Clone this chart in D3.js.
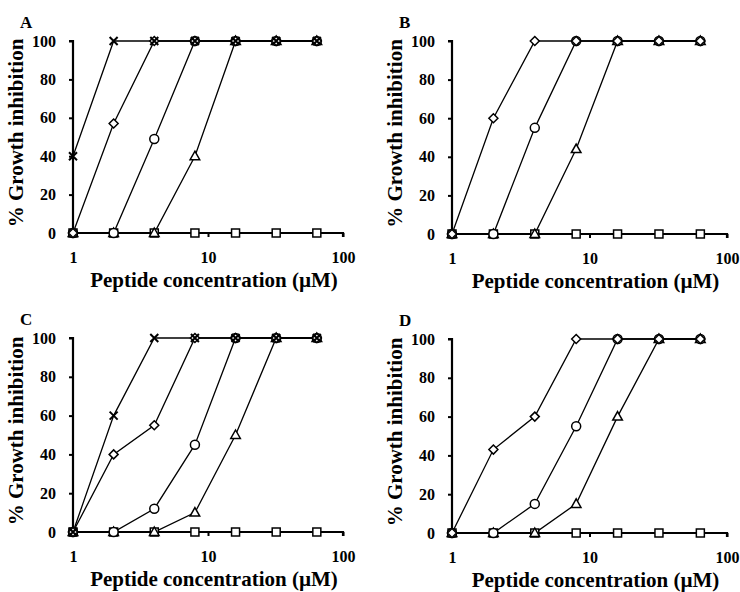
<!DOCTYPE html>
<html>
<head>
<meta charset="utf-8">
<script src="https://cdn.jsdelivr.net/npm/d3@7"></script>
<style>
  body { margin: 0; background: #fff; }
  svg text { font-family: "Liberation Serif", "Times New Roman", Times, "DejaVu Serif", serif; font-weight: bold; fill: #000; }
</style>
</head>
<body>
<svg id="chart" width="740" height="592"></svg>
<script>
// concentrations (µM)
const conc = [1, 2, 4, 8, 16, 32, 64];
const yTicks = [0, 20, 40, 60, 80, 100];
const xTicks = [1, 10, 100];

// % growth inhibition per panel, one array per peptide symbol
const squareA   = [0, 0, 0, 0, 0, 0, 0];
const triangleA = [0, 0, 0, 40, 100, 100, 100];
const circleA   = [0, 0, 49, 100, 100, 100, 100];
const diamondA  = [0, 57, 100, 100, 100, 100, 100];
const crossA    = [40, 100, 100, 100, 100, 100, 100];

const squareB   = [0, 0, 0, 0, 0, 0, 0];
const triangleB = [0, 0, 0, 44, 100, 100, 100];
const circleB   = [0, 0, 55, 100, 100, 100, 100];
const diamondB  = [0, 60, 100, 100, 100, 100, 100];

const squareC   = [0, 0, 0, 0, 0, 0, 0];
const triangleC = [0, 0, 0, 10, 50, 100, 100];
const circleC   = [0, 0, 12, 45, 100, 100, 100];
const diamondC  = [0, 40, 55, 100, 100, 100, 100];
const crossC    = [0, 60, 100, 100, 100, 100, 100];

const squareD   = [0, 0, 0, 0, 0, 0, 0];
const triangleD = [0, 0, 0, 15, 60, 100, 100];
const circleD   = [0, 0, 15, 55, 100, 100, 100];
const diamondD  = [0, 43, 60, 100, 100, 100, 100];

const panels = [
  { label: "A", x0: 73, x1: 343, y0: 233, y1: 41,
    series: [["square", squareA], ["triangle", triangleA], ["circle", circleA], ["diamond", diamondA], ["cross", crossA]] },
  { label: "B", x0: 452, x1: 727, y0: 234, y1: 41,
    series: [["square", squareB], ["triangle", triangleB], ["circle", circleB], ["diamond", diamondB]] },
  { label: "C", x0: 73, x1: 343, y0: 532, y1: 338,
    series: [["square", squareC], ["triangle", triangleC], ["circle", circleC], ["diamond", diamondC], ["cross", crossC]] },
  { label: "D", x0: 452, x1: 727, y0: 533, y1: 339,
    series: [["square", squareD], ["triangle", triangleD], ["circle", circleD], ["diamond", diamondD]] }
];

const FONT = "'Liberation Serif', 'Times New Roman', Times, 'DejaVu Serif', serif";
const svg = d3.select("#chart");

function drawMarker(g, type) {
  if (type === "square") {
    g.append("rect").attr("x", -4).attr("y", -4).attr("width", 8).attr("height", 8);
  } else if (type === "circle") {
    g.append("circle").attr("r", 4.5);
  } else if (type === "diamond") {
    g.append("path").attr("d", "M0,-4.5L4.5,0L0,4.5L-4.5,0Z");
  } else if (type === "triangle") {
    g.append("path").attr("d", "M0,-5L4.8,3.5L-4.8,3.5Z");
  } else if (type === "cross") {
    g.append("path").attr("d", "M-4,-4L4,4M4,-4L-4,4").attr("stroke-width", 2);
  }
}

panels.forEach(function(p) {
  const x = d3.scaleLog().domain([1, 100]).range([p.x0, p.x1]);
  const y = d3.scaleLinear().domain([0, 100]).range([p.y0, p.y1]);
  const g = svg.append("g");

  // axes
  const yAxis = g.append("g")
    .attr("transform", `translate(${p.x0},0)`)
    .call(d3.axisLeft(y).tickValues(yTicks).tickSize(4).tickPadding(13));
  const xAxis = g.append("g")
    .attr("transform", `translate(0,${p.y0})`)
    .call(d3.axisBottom(x).tickValues(xTicks).tickFormat(d3.format("d")).tickSize(4).tickPadding(15));
  [yAxis, xAxis].forEach(function(a) {
    a.attr("font-family", FONT).attr("font-size", 16).attr("font-weight", "bold");
    a.select(".domain").attr("stroke", "#000").attr("stroke-width", 2.2);
    a.selectAll(".tick line").attr("stroke", "#000").attr("stroke-width", 2);
    a.selectAll("text").attr("fill", "#000");
  });
  xAxis.selectAll(".tick").filter(d => d === 1).select("line").remove();
  xAxis.select(".domain").attr("d", `M${p.x0},0H${p.x1}V4`);
  yAxis.select(".domain").attr("d", `M-4,${p.y1}H0V${p.y0}`);

  // labels
  g.append("text").attr("x", p.x0 - 53).attr("y", p.y1 - 13)
    .attr("font-family", FONT).attr("font-size", 17).text(p.label);
  g.append("text")
    .attr("x", (p.x0 + p.x1) / 2 + 6).attr("y", p.y0 + 54)
    .attr("text-anchor", "middle").attr("font-family", FONT).attr("font-size", 21)
    .text("Peptide concentration (µM)");
  g.append("text")
    .attr("transform", `translate(${p.x0 - 50},${(p.y0 + p.y1) / 2 - 4}) rotate(-90)`)
    .attr("text-anchor", "middle").attr("font-family", FONT).attr("font-size", 21)
    .text("% Growth inhibition");

  // series
  const line = d3.line().x((d, i) => x(conc[i])).y(d => y(d));
  p.series.forEach(function(s) {
    g.append("path").datum(s[1])
      .attr("fill", "none").attr("stroke", "#000").attr("stroke-width", 1.3)
      .attr("d", line);
  });
  p.series.forEach(function(s) {
    s[1].forEach(function(v, i) {
      const m = g.append("g")
        .attr("transform", `translate(${x(conc[i])},${y(v)})`)
        .attr("fill", "#fff").attr("stroke", "#000").attr("stroke-width", 1.5);
      drawMarker(m, s[0]);
    });
  });
});
</script>
</body>
</html>
